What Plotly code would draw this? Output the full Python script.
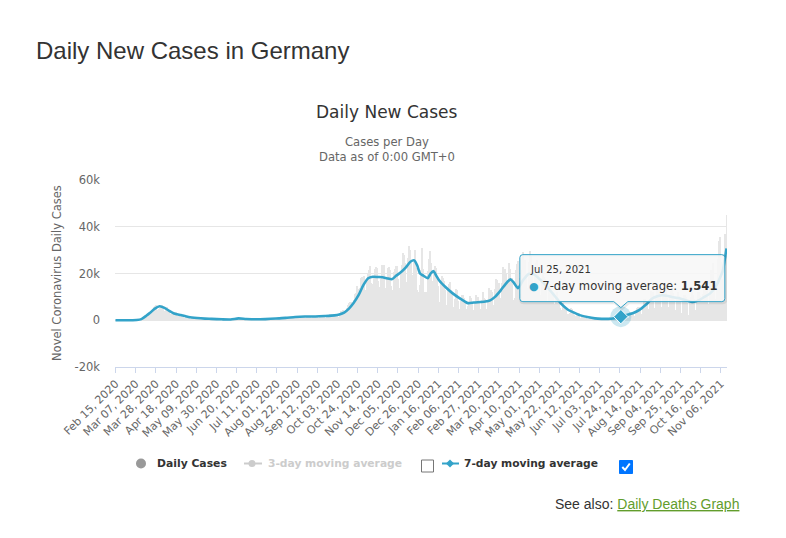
import pandas as pd
import plotly.graph_objects as go

# ---------------- data ----------------
start_date = "2020-02-15"
# daily new cases (thousands), one row per week (Sat..Fri), from Feb 15, 2020
daily_cases_k = [
    0, 0, 0, 0, 0, 0, 0,
    0, 0, 0, 0, 0.01, 0.01, 0.03,
    0.03, 0.01, 0.04, 0.03, 0.05, 0.06, 0.1,
    0.15, 0.1, 0.15, 0.2, 0.3, 0.4, 0.6,
    0.9, 1.0, 1.0, 1.4, 2.0, 2.8, 2.5,
    2.7, 2.0, 4.0, 4.5, 4.9, 5.5, 6.3,
    6.5, 4.0, 4.5, 4.9, 5.3, 6.2, 6.6,
    6.0, 5.5, 3.7, 3.8, 4.9, 5.6, 4.5,
    3.8, 2.8, 2.5, 2.1, 3.0, 3.4, 3.4,
    3.6, 1.8, 1.8, 1.8, 2.3, 2.4, 2.3,
    1.9, 1.0, 1.0, 1.2, 1.3, 1.6, 1.4,
    0.9, 0.7, 0.7, 0.9, 1.2, 1.3, 1.2,
    0.9, 0.6, 0.4, 0.9, 0.8, 0.8, 0.7,
    0.6, 0.5, 0.3, 0.6, 0.8, 0.7, 0.5,
    0.6, 0.4, 0.3, 0.4, 0.4, 0.7, 0.6,
    0.7, 0.3, 0.2, 0.3, 0.3, 0.4, 0.5,
    0.4, 0.3, 0.2, 0.3, 0.3, 0.5, 0.3,
    0.4, 0.2, 0.2, 0.4, 0.6, 0.6, 0.8,
    0.6, 0.7, 0.5, 0.5, 0.6, 0.6, 0.5,
    0.5, 0.3, 0.3, 0.4, 0.5, 0.5, 0.4,
    0.4, 0.2, 0.3, 0.4, 0.4, 0.4, 0.4,
    0.3, 0.2, 0.2, 0.4, 0.5, 0.5, 0.5,
    0.4, 0.2, 0.3, 0.5, 0.6, 0.8, 0.8,
    0.8, 0.3, 0.5, 0.6, 0.9, 0.9, 1.0,
    0.9, 0.2, 0.9, 0.6, 1.0, 1.0, 1.1,
    1.1, 0.4, 0.7, 1.2, 1.2, 1.4, 1.5,
    1.4, 0.6, 1.0, 1.5, 1.7, 1.6, 2.0,
    1.3, 0.8, 0.7, 1.6, 1.6, 1.5, 1.5,
    1.3, 0.6, 0.9, 1.2, 1.6, 1.3, 1.5,
    1.4, 0.8, 0.8, 1.5, 1.8, 1.9, 1.6,
    1.6, 0.9, 1.1, 1.4, 2.2, 2.3, 2.0,
    2.3, 1.0, 0.9, 1.8, 1.8, 2.1, 2.7,
    2.5, 1.4, 1.2, 1.8, 2.5, 2.7, 2.6,
    2.1, 1.4, 1.4, 2.6, 4.0, 4.1, 4.5,
    3.9, 2.4, 3.5, 5.1, 6.6, 7.3, 7.8,
    7.8, 5.4, 6.9, 8.5, 11.2, 11.6, 14.7,
    13.3, 10.9, 9.1, 13.6, 17.9, 18.7, 18.0,
    19.1, 13.0, 12.1, 17.2, 19.9, 21.5, 23.4,
    16.0, 12.5, 15.3, 18.5, 21.8, 22.9, 22.4,
    16.9, 10.8, 14.4, 17.6, 23.6, 22.6, 23.5,
    15.4, 10.9, 13.6, 18.6, 22.3, 22.8, 21.7,
    14.6, 11.2, 13.0, 20.8, 22.0, 23.4, 23.2,
    17.8, 12.3, 14.0, 20.8, 23.7, 28.9, 28.0,
    24.7, 16.4, 16.4, 26.7, 30.3, 31.8, 30.2,
    24.3, 17.0, 19.3, 24.8, 30.0, 22.3, 13.0,
    12.0, 10.6, 15.0, 21.3, 31.0, 22.0, 10.0,
    12.0, 9.9, 11.9, 21.2, 26.4, 29.8, 24.7,
    17.0, 13.0, 13.0, 21.3, 23.0, 22.4, 18.7,
    14.5, 7.6, 7.2, 16.0, 19.0, 17.9, 17.0,
    13.0, 6.4, 6.2, 13.2, 15.4, 16.4, 12.8,
    11.2, 5.7, 5.3, 9.0, 13.4, 12.8, 12.0,
    8.4, 5.0, 4.5, 8.1, 11.0, 10.6, 9.5,
    7.8, 4.3, 4.7, 6.3, 8.1, 10.2, 9.4,
    7.6, 4.2, 4.4, 8.0, 10.8, 8.9, 9.8,
    8.1, 4.8, 4.5, 8.7, 10.2, 11.9, 9.6,
    9.0, 5.0, 5.0, 8.1, 14.0, 12.7, 12.8,
    12.1, 6.6, 5.5, 13.4, 17.5, 17.1, 16.0,
    16.0, 9.5, 8.0, 15.8, 22.7, 21.6, 21.9,
    20.4, 12.2, 9.9, 17.1, 24.3, 21.9, 13.3,
    18.1, 8.5, 8.4, 9.7, 21.7, 24.1, 25.5,
    17.9, 11.2, 10.2, 21.7, 29.4, 25.8, 25.8,
    19.1, 13.8, 11.9, 24.9, 29.5, 27.5, 24.3,
    23.4, 13.3, 11.9, 21.2, 24.7, 25.8, 22.3,
    15.7, 10.9, 10.9, 18.0, 20.6, 18.5, 17.5,
    15.7, 8.4, 6.9, 14.0, 15.5, 12.7, 11.6,
    11.5, 7.0, 4.2, 9.7, 10.8, 12.3, 9.4,
    7.8, 5.4, 2.7, 4.2, 7.5, 6.7, 6.2,
    4.7, 2.8, 2.2, 2.6, 3.2, 5.3, 4.9,
    3.6, 2.1, 1.2, 1.8, 3.3, 3.2, 3.1,
    2.4, 1.0, 0.6, 1.2, 1.5, 1.3, 1.1,
    1.1, 0.7, 0.3, 0.5, 1.0, 1.3, 0.8,
    0.9, 0.5, 0.3, 0.4, 0.9, 0.9, 0.8,
    0.7, 0.4, 0.2, 0.5, 0.8, 1.0, 0.9,
    0.8, 0.5, 0.3, 0.7, 1.4, 1.6, 1.6,
    1.5, 0.6, 0.5, 1.2, 2.2, 2.2, 2.1,
    2.0, 0.8, 0.9, 1.5, 2.8, 3.1, 2.4,
    2.4, 1.0, 1.1, 2.4, 3.6, 3.5, 3.4,
    3.3, 1.9, 1.8, 3.9, 5.4, 5.6, 5.6,
    5.1, 2.3, 2.6, 6.0, 9.0, 9.3, 8.3,
    7.5, 4.5, 4.7, 7.8, 12.6, 11.0, 12.0,
    9.5, 5.3, 5.2, 10.5, 13.7, 14.2, 13.9,
    10.5, 5.6, 5.6, 12.1, 13.1, 14.3, 13.6,
    9.7, 5.0, 5.5, 10.5, 12.5, 14.0, 11.5,
    8.7, 4.4, 4.2, 9.8, 12.1, 12.2, 10.4,
    7.9, 3.2, 3.0, 9.1, 10.7, 10.6, 10.0,
    7.3, 2.4, 2.3, 7.3, 10.0, 12.1, 11.0,
    9.0, 2.7, 4.6, 7.8, 12.0, 12.2, 10.3,
    9.5, 4.0, 6.8, 11.3, 16.1, 16.3, 15.1,
    14.0, 5.5, 7.0, 16.7, 21.6, 19.5, 24.7,
    15.5, 8.2, 9.1, 16.6, 26.0, 34.0, 35.6,
    25.0, 12.5, 17.7, 25.6, 36.7, 35.6, 45.0,
]

# 7-day moving average (thousands)
avg_dates = [
    "2020-02-15", "2020-02-23", "2020-03-01", "2020-03-08", "2020-03-13", "2020-03-18",
    "2020-03-22", "2020-03-27", "2020-04-01", "2020-04-06", "2020-04-11", "2020-04-16",
    "2020-04-23", "2020-05-01", "2020-05-10", "2020-05-18", "2020-05-25", "2020-06-05",
    "2020-06-14", "2020-06-22", "2020-06-30", "2020-07-10", "2020-07-20", "2020-07-31",
    "2020-08-10", "2020-08-20", "2020-08-30", "2020-09-10", "2020-09-20", "2020-09-30",
    "2020-10-05", "2020-10-10", "2020-10-15", "2020-10-20", "2020-10-25", "2020-10-30",
    "2020-11-04", "2020-11-09", "2020-11-14", "2020-11-19", "2020-11-24", "2020-11-29",
    "2020-12-03", "2020-12-08", "2020-12-13", "2020-12-18", "2020-12-22", "2020-12-25",
    "2020-12-28", "2020-12-31", "2021-01-05", "2021-01-08", "2021-01-11", "2021-01-14",
    "2021-01-17", "2021-01-24", "2021-01-31", "2021-02-07", "2021-02-16", "2021-02-22",
    "2021-03-01", "2021-03-06", "2021-03-11", "2021-03-16", "2021-03-22", "2021-03-27",
    "2021-04-01", "2021-04-04", "2021-04-09", "2021-04-14", "2021-04-20", "2021-04-26",
    "2021-05-03", "2021-05-10", "2021-05-17", "2021-05-24", "2021-05-31", "2021-06-05",
    "2021-06-12", "2021-06-20", "2021-06-28", "2021-07-05", "2021-07-12", "2021-07-17",
    "2021-07-21", "2021-07-25", "2021-08-01", "2021-08-07", "2021-08-13", "2021-08-20",
    "2021-08-27", "2021-09-01", "2021-09-06", "2021-09-12", "2021-09-18", "2021-09-24",
    "2021-10-01", "2021-10-08", "2021-10-14", "2021-10-20", "2021-10-26", "2021-11-01",
    "2021-11-05", "2021-11-08", "2021-11-10", "2021-11-12",
]
avg_values_k = [
    0.0, 0.0, 0.02, 0.12, 0.5, 1.9,
    3.2, 5.0, 6.0, 5.3, 4.0, 2.9,
    2.2, 1.4, 0.95, 0.7, 0.6, 0.4,
    0.35, 0.8, 0.55, 0.4, 0.5, 0.75,
    1.0, 1.4, 1.6, 1.6, 1.8, 2.1,
    2.5, 3.3, 5.0, 7.5, 10.7, 15.0,
    18.0, 18.6, 18.5, 18.4, 17.9, 17.6,
    19.0, 20.5, 22.5, 25.0, 25.6, 23.5,
    20.0, 19.2, 18.0, 20.0, 21.0, 19.0,
    17.0, 14.0, 11.5, 9.5, 7.3, 7.6,
    7.8, 8.0, 8.5, 10.0, 12.8, 15.5,
    17.5, 16.4, 13.7, 17.0, 19.8, 19.5,
    17.0, 14.0, 10.5, 7.0, 4.5, 3.5,
    2.2, 1.4, 0.8, 0.6, 0.6, 0.75,
    1.1, 1.541, 2.3, 3.1, 4.3, 6.6,
    9.4, 10.3, 10.7, 10.4, 9.8, 9.4,
    8.5, 7.8, 8.5, 10.0, 11.5, 14.5,
    18.0, 21.0, 25.5, 30.7,
]

y_tick_values = [-20000, 0, 20000, 40000, 60000]
y_tick_labels = ["-20k", "0", "20k", "40k", "60k"]
highlight_date = "2021-07-25"

# ---------------- styling / layout ----------------
W, H = 786, 538
L, R, T, B = 115, 727, 180, 367
FONT = "DejaVu Sans, Verdana, sans-serif"
ARIAL = "Liberation Sans, Arial, sans-serif"
BLUE = "#33a3c9"


def px(x):
    return (x - L) / (R - L)


def py(y):
    return (B - y) / (B - T)


dates = pd.date_range(start_date, periods=len(daily_cases_k), freq="D")
daily_cases = [v * 1000 for v in daily_cases_k]
avg_x = pd.to_datetime(avg_dates)
avg_values = [v * 1000 for v in avg_values_k]
hi_idx = avg_dates.index(highlight_date)
hi_value = avg_values[hi_idx]

fig = go.Figure()
fig.add_trace(go.Bar(x=dates, y=daily_cases, marker=dict(color="#e6e6e6", line=dict(width=0)),
                     name="Daily Cases", hoverinfo="skip"))
fig.add_trace(go.Scatter(x=avg_x, y=avg_values, mode="lines",
                         line=dict(color=BLUE, width=2.6, shape="spline", smoothing=0.6),
                         name="7-day moving average", hoverinfo="skip"))
fig.add_trace(go.Scatter(x=[avg_x[hi_idx]], y=[hi_value], mode="markers",
                         marker=dict(size=21, color="rgba(51,163,201,0.25)"), hoverinfo="skip"))
fig.add_trace(go.Scatter(x=[avg_x[hi_idx]], y=[hi_value], mode="markers",
                         marker=dict(size=11, symbol="diamond", color=BLUE,
                                     line=dict(color="#ffffff", width=1)), hoverinfo="skip"))

shapes = []
annotations = []


def callout(lft, rgt, bot, top, tip, hw, r, dx=0, dy=0):
    return (f"M {lft + r + dx},{top + dy} L {rgt - r + dx},{top + dy} "
            f"Q {rgt + dx},{top + dy} {rgt + dx},{top - r + dy} "
            f"L {rgt + dx},{bot + r + dy} Q {rgt + dx},{bot + dy} {rgt - r + dx},{bot + dy} "
            f"L {hw + dx},{bot + dy} L {0 + dx},{tip + dy} L {-hw + dx},{bot + dy} "
            f"L {lft + r + dx},{bot + dy} Q {lft + dx},{bot + dy} {lft + dx},{bot + r + dy} "
            f"L {lft + dx},{top - r + dy} Q {lft + dx},{top + dy} {lft + r + dx},{top + dy} Z")


anchor = dict(xref="x", yref="y", xsizemode="pixel", ysizemode="pixel",
              xanchor=avg_dates[hi_idx], yanchor=hi_value, layer="above")
shapes.append(dict(type="path", path=callout(-101, 104, 15, 62, 9, 7, 3, 1, -1),
                   fillcolor="rgba(0,0,0,0)", line=dict(color="rgba(0,0,0,0.08)", width=3), **anchor))
shapes.append(dict(type="path", path=callout(-101, 104, 15, 62, 9, 7, 3),
                   fillcolor="rgba(247,247,247,0.88)", line=dict(color=BLUE, width=1), **anchor))

date_label = pd.Timestamp(highlight_date).strftime("%b %d, %Y")
annotations.append(dict(x=avg_dates[hi_idx], y=hi_value, xref="x", yref="y", text=date_label,
                        showarrow=False, xanchor="left", yanchor="middle", xshift=-93, yshift=47,
                        font=dict(family=FONT, size=10, color="#333333")))
annotations.append(dict(x=avg_dates[hi_idx], y=hi_value, xref="x", yref="y",
                        text=(f'<span style="color:{BLUE};font-size:11px">●</span> 7-day moving average: '
                              f'<b>{hi_value:,.0f}</b>'),
                        showarrow=False, xanchor="left", yanchor="middle", xshift=-94, yshift=31,
                        font=dict(family=FONT, size=11.6, color="#333333")))


def text_at(text, x, y, size, color, family=FONT, xanchor="left", **kw):
    annotations.append(dict(text=text, x=px(x), y=py(y), xref="paper", yref="paper",
                            showarrow=False, xanchor=xanchor, yanchor="middle",
                            font=dict(family=family, size=size, color=color), **kw))


# titles
text_at("Daily New Cases in Germany", 34, 50, 24, "#333333", family=ARIAL)
text_at("Daily New Cases", 387, 112, 17, "#333333", xanchor="center")
text_at("Cases per Day", 387, 142, 11.6, "#666666", xanchor="center")
text_at("Data as of 0:00 GMT+0", 387, 157, 11.6, "#666666", xanchor="center")
text_at("Novel Coronavirus Daily Cases", 57, 273, 11.5, "#666666", xanchor="center", textangle=-90)

# legend
LY = 463.5
shapes.append(dict(type="circle", xref="paper", yref="paper", x0=px(136), x1=px(146),
                   y0=py(LY - 5), y1=py(LY + 5), fillcolor="#999999", line=dict(width=0)))
text_at("<b>Daily Cases</b>", 155, LY, 10.8, "#333333")
shapes.append(dict(type="line", xref="paper", yref="paper", x0=px(244), x1=px(262),
                   y0=py(LY), y1=py(LY), line=dict(color="#cccccc", width=2)))
shapes.append(dict(type="circle", xref="paper", yref="paper", x0=px(248.5), x1=px(255.5),
                   y0=py(LY - 3.5), y1=py(LY + 3.5), fillcolor="#cccccc", line=dict(width=0)))
text_at("<b>3-day moving average</b>", 266, LY, 10.7, "#cccccc")
shapes.append(dict(type="rect", xref="paper", yref="paper", x0=px(421.5), x1=px(433.5),
                   y0=py(460), y1=py(472), fillcolor="#ffffff", line=dict(color="#767676", width=1)))
shapes.append(dict(type="line", xref="paper", yref="paper", x0=px(442), x1=px(459),
                   y0=py(LY), y1=py(LY), line=dict(color=BLUE, width=2)))
shapes.append(dict(type="path", xref="paper", yref="paper",
                   path=(f"M {px(450)},{py(LY - 4)} L {px(454)},{py(LY)} L {px(450)},{py(LY + 4)} "
                         f"L {px(446)},{py(LY)} Z"),
                   fillcolor=BLUE, line=dict(width=0)))
text_at("<b>7-day moving average</b>", 462, LY, 10.7, "#333333")
shapes.append(dict(type="rect", xref="paper", yref="paper", x0=px(619.5), x1=px(632.5),
                   y0=py(460.5), y1=py(473.5), fillcolor="#0075ff", line=dict(color="#0075ff", width=1)))
shapes.append(dict(type="path", xref="paper", yref="paper",
                   path=(f"M {px(622.3)},{py(467)} L {px(625)},{py(470)} L {px(629.8)},{py(463.5)}"),
                   fillcolor="rgba(0,0,0,0)", line=dict(color="#ffffff", width=2)))

# see also
text_at('See also: <span style="color:#629d2c"><u>Daily Deaths Graph</u></span>', 553, 504, 14,
        "#333333", family=ARIAL)

fig.update_layout(
    width=W, height=H, autosize=False,
    margin=dict(l=L, r=W - R, t=T, b=H - B, pad=0),
    paper_bgcolor="#ffffff", plot_bgcolor="#ffffff",
    showlegend=False, bargap=0, hovermode=False,
    shapes=shapes, annotations=annotations,
    xaxis=dict(
        type="date",
        range=[pd.Timestamp(start_date) - pd.Timedelta(hours=12),
               dates[-1] + pd.Timedelta(hours=12)],
        tickmode="linear", tick0=start_date, dtick=21 * 86400000,
        tickformat="%b %d, %Y", tickangle=-45,
        tickfont=dict(family=FONT, size=11, color="#666666"),
        showgrid=False, showline=True, linecolor="#ccd6eb", linewidth=1,
        ticks="outside", ticklen=5, tickcolor="#ccd6eb", zeroline=False,
    ),
    yaxis=dict(
        range=[-20000, 60000], tickmode="array",
        tickvals=y_tick_values, ticktext=y_tick_labels,
        tickfont=dict(family=FONT, size=11.5, color="#666666"),
        showgrid=True, gridcolor="#e6e6e6", gridwidth=1,
        zeroline=False, showline=False, ticks="", ticklabelstandoff=14,
    ),
)

fig.write_html("out.html")
